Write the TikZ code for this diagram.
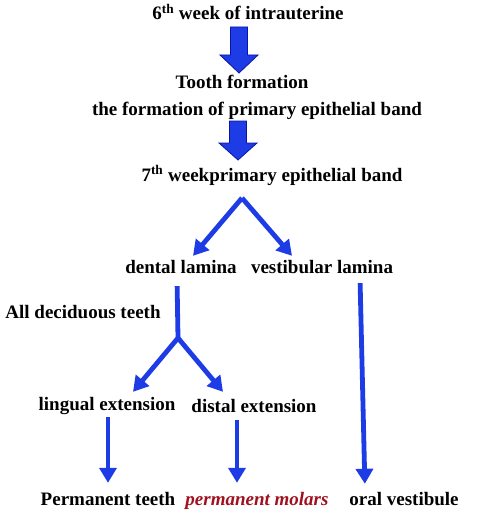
\documentclass[tikz,border=0pt]{standalone}
\usepackage{fontspec}
\setmainfont{Liberation Serif}
\usepackage{tikz}
\usetikzlibrary{arrows.meta, positioning, calc}
\definecolor{flowBlue}{HTML}{1E3CE6}
\definecolor{flowEdge}{HTML}{0A14A8}
\definecolor{molarRed}{HTML}{A0101E}

\begin{document}
\begin{tikzpicture}[x=1pt, y=-1pt,
    lbl/.style={font=\fontsize{19}{21}\selectfont\bfseries, inner sep=1pt,
      text height=14pt, text depth=4pt},
    blockarrow/.style={fill=flowBlue, draw=flowEdge, line width=0.8pt, line join=miter},
    flowline/.style={flowBlue, line width=4.8pt},
    flowarrow/.style={flowline, -{Triangle[width=17pt, length=15pt]}}]
  \useasboundingbox (0,0) rectangle (502,516);

  % stages
  \node[lbl] (wk6) at (248,15) {6\textsuperscript{th} week of intrauterine};
  \node[lbl] (tooth) at (242,84) {Tooth formation};
  \node[lbl] (band) at (257,111) {the formation of primary epithelial band};
  \node[lbl] (wk7) at (272,176) {7\textsuperscript{th} weekprimary epithelial band};

  % laminae
  \node[lbl] (dental) at (181,268) {dental lamina};
  \node[lbl] (vest) at (322,268) {vestibular lamina};
  \node[lbl] (decid) at (83,313) {All deciduous teeth};

  % extensions
  \node[lbl] (lingual) at (107,405) {lingual extension};
  \node[lbl] (distal) at (254,407) {distal extension};

  % results
  \node[lbl] (perm) at (108,500) {Permanent teeth};
  \node[lbl, molarRed, font=\fontsize{19}{21}\selectfont\bfseries\itshape] (molars) at (257,500) {permanent molars};
  \node[lbl] (oral) at (404,500) {oral vestibule};

  % block arrows
  \coordinate (arrA) at (239,27);
  \draw[blockarrow] (arrA) ++(-8.5,0) -- ++(17,0) -- ++(0,28) -- ++(10.5,0)
    -- ++(-19,18) -- ++(-19,-18) -- ++(10.5,0) -- cycle;
  \coordinate (arrB) at (238,121);
  \draw[blockarrow] (arrB) ++(-8.5,0) -- ++(17,0) -- ++(0,22) -- ++(10.5,0)
    -- ++(-19,17) -- ++(-19,-17) -- ++(10.5,0) -- cycle;

  % branch points
  \coordinate (split1) at (242,198);
  \coordinate (split2) at (178,338);

  \draw[flowarrow] (split1) -- ([xshift=12pt, yshift=2pt]dental.north);
  \draw[flowarrow] (split1) -- ([xshift=-30pt, yshift=2pt]vest.north);

  \draw[flowline, shorten <=8pt] ([xshift=-4pt]dental.south) -- (split2);
  \draw[flowarrow] (split2) -- ([xshift=26pt, yshift=3pt]lingual.north);
  \draw[flowarrow] (split2) -- ([xshift=-31pt, yshift=5pt]distal.north);

  \draw[flowarrow, shorten <=2pt, shorten >=7pt] (lingual.south -| perm.north) -- (perm.north);
  \draw[flowarrow, shorten <=3pt, shorten >=7pt] ([xshift=-17pt]distal.south) -- ([xshift=-20pt]molars.north);
  \draw[flowarrow, shorten <=5pt, shorten >=6pt] ([xshift=38pt]vest.south) -- ([xshift=-39pt]oral.north);
\end{tikzpicture}
\end{document}
